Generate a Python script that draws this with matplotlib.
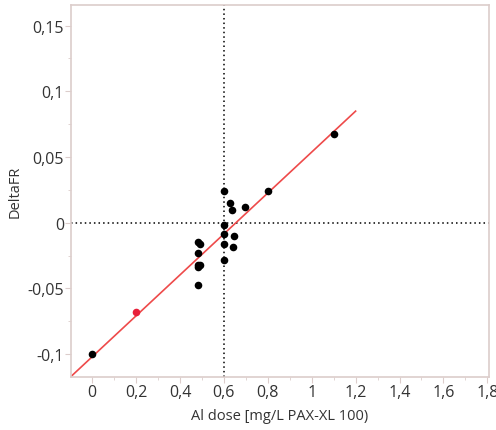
import numpy as np
import matplotlib
matplotlib.use("Agg")
import matplotlib.pyplot as plt
from matplotlib.ticker import MultipleLocator, FuncFormatter

# black points (Al dose, DeltaFR)
dose = [0.0, 0.48, 0.49, 0.48, 0.48, 0.49, 0.48, 0.48, 0.6, 0.6, 0.6, 0.6, 0.6,
        0.63, 0.635, 0.645, 0.64, 0.695, 0.8, 1.1]
dfr = [-0.100, -0.0147, -0.016, -0.0228, -0.0324, -0.0324, -0.034, -0.047,
       0.0238, -0.002, -0.0084, -0.016, -0.028,
       0.0152, 0.0099, -0.010, -0.0185, 0.012, 0.0238, 0.0672]

# red point
red_dose = [0.2]
red_dfr = [-0.068]

# fitted line
fit_slope = 0.1557
fit_icpt = -0.1019
fit_x = [-0.097, 1.2]

plt.rcParams['font.family'] = ['Open Sans', 'DejaVu Sans']
frame_col = '#dccdcb'
text_col = '#333333'

fig = plt.figure(figsize=(4.96, 4.31), dpi=100)
ax = fig.add_axes([0.143, 0.124, 0.843, 0.863])

ax.axvline(0.6, color='black', linestyle=(0, (1, 2)), linewidth=1.1, zorder=1)
ax.axhline(0.0, color='black', linestyle=(0, (1, 2)), linewidth=1.1, zorder=1)

fx = np.array(fit_x)
ax.plot(fx, fit_slope * fx + fit_icpt, color='#ee4a4a', linewidth=1.2, zorder=2)

ax.scatter(dose, dfr, s=30, color='black', zorder=3, linewidths=0)
ax.scatter(red_dose, red_dfr, s=30, color='#e8203a', zorder=3, linewidths=0)

ax.set_xlim(-0.097, 1.808)
ax.set_ylim(-0.117, 0.166)

ax.xaxis.set_major_locator(MultipleLocator(0.2))
ax.xaxis.set_minor_locator(MultipleLocator(0.1))
ax.yaxis.set_major_locator(MultipleLocator(0.05))
ax.yaxis.set_minor_locator(MultipleLocator(0.025))

def comma_fmt(v, pos):
    s = '%g' % round(v, 3)
    if s == '-0':
        s = '0'
    return s.replace('.', ',')

ax.xaxis.set_major_formatter(FuncFormatter(comma_fmt))
ax.yaxis.set_major_formatter(FuncFormatter(comma_fmt))

for sp in ax.spines.values():
    sp.set_color(frame_col)
    sp.set_linewidth(1.2)

ax.tick_params(which='both', direction='out', color=frame_col, labelcolor=text_col,
               labelsize=11.5)
ax.tick_params(which='major', length=4)
ax.tick_params(which='minor', length=2.5)
ax.tick_params(axis='x', pad=1)
ax.tick_params(axis='y', pad=1)

ax.set_xlabel('Al dose [mg/L PAX-XL 100)', fontsize=10.5, color=text_col, labelpad=6)
ax.set_ylabel('DeltaFR', fontsize=10.5, color=text_col)
ax.yaxis.set_label_coords(-0.115, 0.5)

fig.savefig('out.png', dpi=100)
